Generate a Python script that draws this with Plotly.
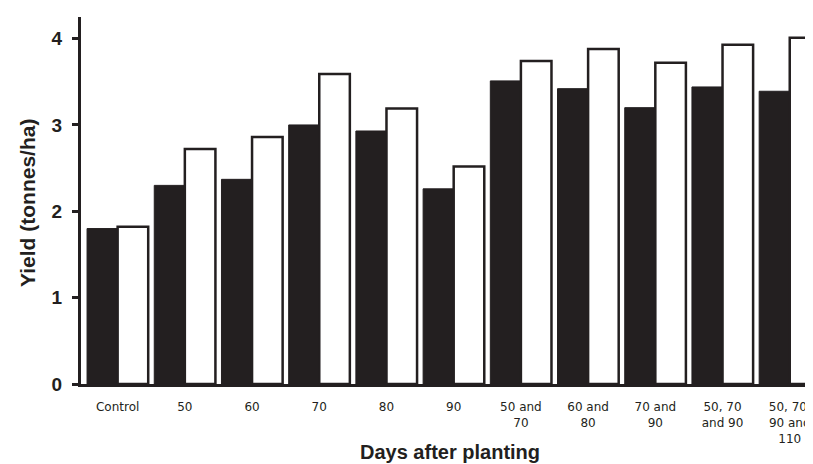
import plotly.graph_objects as go

categories = ["Control", "50", "60", "70", "80", "90",
              "50 and<br>70", "60 and<br>80", "70 and<br>90",
              "50, 70<br>and 90", "50, 70,<br>90 and<br>110"]
series_dark = [1.80, 2.30, 2.37, 3.00, 2.93, 2.26, 3.51, 3.42, 3.20, 3.44, 3.39]
series_light = [1.82, 2.72, 2.86, 3.59, 3.19, 2.52, 3.74, 3.88, 3.72, 3.93, 4.01]
y_ticks = [0, 1, 2, 3, 4]

INK = "#231f20"

# page body has an 8px margin: the figure's origin sits at (8, 8) in the window
OFF = 8
W, H = 813 - OFF, 464 - OFF
L, T, B = 81 - OFF, 17 - OFF, 0
PLOT_W = W - L
PLOT_H = 384 - 17
B = H - T - PLOT_H

fig = go.Figure()
fig.add_trace(go.Bar(x=categories, y=series_dark, marker=dict(color=INK, line=dict(color=INK, width=1)),
                     showlegend=False))
fig.add_trace(go.Bar(x=categories, y=series_light, marker=dict(color="white", line=dict(color=INK, width=2.5)),
                     showlegend=False))

fig.update_layout(
    width=W, height=H,
    margin=dict(l=L, r=0, t=T, b=B),
    paper_bgcolor="white", plot_bgcolor="white",
    barmode="group", bargap=0.09, bargroupgap=0,
    font=dict(family="Arial, Liberation Sans, sans-serif", color=INK),
    xaxis=dict(
        type="category", range=[-0.545, 10.346],
        showline=True, linecolor=INK, linewidth=3,
        ticks="", showgrid=False, zeroline=False,
        tickfont=dict(family="DejaVu Sans", size=12, color=INK),
        ticklabelstandoff=10,
    ),
    yaxis=dict(
        range=[0, 4.25], tickvals=y_ticks,
        showline=True, linecolor=INK, linewidth=3,
        ticks="outside", ticklen=6, tickwidth=3, tickcolor=INK,
        showgrid=False, zeroline=False,
        tickfont=dict(family="Arial, Liberation Sans, sans-serif", size=19, color=INK, weight="bold"),
        ticklabelstandoff=6,
    ),
    annotations=[
        dict(text="<b>Days after planting</b>", xref="paper", yref="paper",
             x=(450 - 81) / PLOT_W, y=-(452 - 384) / PLOT_H, xanchor="center", yanchor="middle",
             showarrow=False, font=dict(size=20, color=INK, family="Arial, Liberation Sans, sans-serif")),
        dict(text="<b>Yield (tonnes/ha)</b>", xref="paper", yref="paper",
             x=-(81 - 28) / PLOT_W, y=(384 - 203) / PLOT_H, xanchor="center", yanchor="middle",
             textangle=-90, showarrow=False,
             font=dict(size=21, color=INK, family="Arial, Liberation Sans, sans-serif")),
    ],
)

fig.write_html("out.html")
